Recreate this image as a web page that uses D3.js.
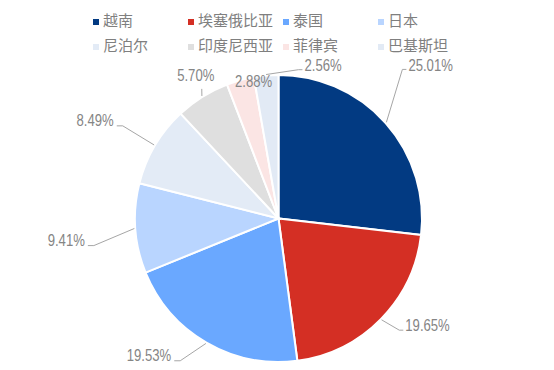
<!DOCTYPE html>
<html>
<head>
<meta charset="utf-8">
<script src="https://cdn.jsdelivr.net/npm/d3@7"></script>
<style>
  body { margin: 0; background: #fff; }
  svg { display: block; }
</style>
</head>
<body>
<svg id="chart"></svg>
<script>
// chart data
var countries = ["越南", "埃塞俄比亚", "泰国", "日本", "尼泊尔", "印度尼西亚", "菲律宾", "巴基斯坦"];
var shares = [25.01, 19.65, 19.53, 9.41, 8.49, 5.70, 2.88, 2.56];
var colors = ["#023a82", "#d42f24", "#6aa8ff", "#b9d5ff", "#e3ebf6", "#dfdfdf", "#fbe5e4", "#e2eaf5"];

// label layout: angle (deg, clockwise from top), distance from centre, text anchor
var labelAngle = [40.5, 130.6, 217.8, 263.2, 300.4, 329.7, 349.6, 9.7];
var labelDist = [200, 167, 175, 195, 191, 164, 138, 154];
var labelAnchor = ["start", "start", "end", "end", "end", "middle", "middle", "start"];

var width = 554, height = 370,
    cx = 278.5, cy = 218.5, radius = 143.5;

var svg = d3.select("#chart")
    .attr("width", width)
    .attr("height", height);

var pie = d3.pie().sort(null).value(function (d) { return d; });
var arcs = pie(shares);
var arc = d3.arc().innerRadius(0).outerRadius(radius);

var g = svg.append("g").attr("transform", "translate(" + cx + "," + cy + ")");

g.selectAll("path.slice")
    .data(arcs)
    .enter().append("path")
    .attr("class", "slice")
    .attr("d", arc)
    .attr("fill", function (d, i) { return colors[i]; })
    .attr("stroke", "#fff")
    .attr("stroke-width", 2);

function polar(a, r) {
    var t = a * Math.PI / 180;
    return [Math.sin(t) * r, -Math.cos(t) * r];
}

// labels + leader lines (narrow digits: no condensed font installed, so squeeze it)
arcs.forEach(function (d, i) {
    var p = polar(labelAngle[i], labelDist[i]);
    var anchor = labelAnchor[i];
    var mid = (d.startAngle + d.endAngle) / 2 * 180 / Math.PI;
    var start = polar(mid, radius + 1);
    var pts = null;
    if (anchor == "start") {
        pts = [start, [p[0] - 6, p[1] + 3], [p[0] - 2, p[1] + 3]];
    } else if (anchor == "end") {
        pts = [start, [p[0] + 9, p[1] + 4], [p[0] + 3, p[1] + 4]];
    } else if (labelDist[i] > radius + 5) {
        pts = [start, [p[0] + 6, p[1] + 12]];
    }
    if (pts) {
        g.append("polyline")
            .attr("points", pts.map(function (q) { return q.join(","); }).join(" "))
            .attr("fill", "none")
            .attr("stroke", "#a6a6a6")
            .attr("stroke-width", 1);
    }
    g.append("text")
        .attr("transform", "translate(" + p[0] + "," + p[1] + ") scale(0.82,1)")
        .attr("text-anchor", anchor)
        .attr("dominant-baseline", "middle")
        .attr("font-family", "'Liberation Sans', Arial, sans-serif")
        .attr("font-size", 16)
        .attr("fill", "#858585")
        .text(shares[i].toFixed(2) + "%");
});

// legend, 4 columns x 2 rows
var legend = svg.append("g").attr("transform", "translate(93,22)");
var item = legend.selectAll("g.item")
    .data(countries)
    .enter().append("g")
    .attr("class", "item")
    .attr("transform", function (d, i) {
        return "translate(" + (i % 4) * 95 + "," + Math.floor(i / 4) * 25 + ")";
    });

item.append("rect")
    .attr("x", 0).attr("y", -3)
    .attr("width", 6).attr("height", 6)
    .attr("fill", function (d, i) { return colors[i]; });

item.append("text")
    .attr("x", 10)
    .attr("y", 0)
    .attr("dominant-baseline", "middle")
    .attr("font-family", "'Noto Sans CJK SC', sans-serif")
    .attr("font-size", 15)
    .attr("fill", "#7f7f7f")
    .text(function (d) { return d; });
</script>
</body>
</html>
